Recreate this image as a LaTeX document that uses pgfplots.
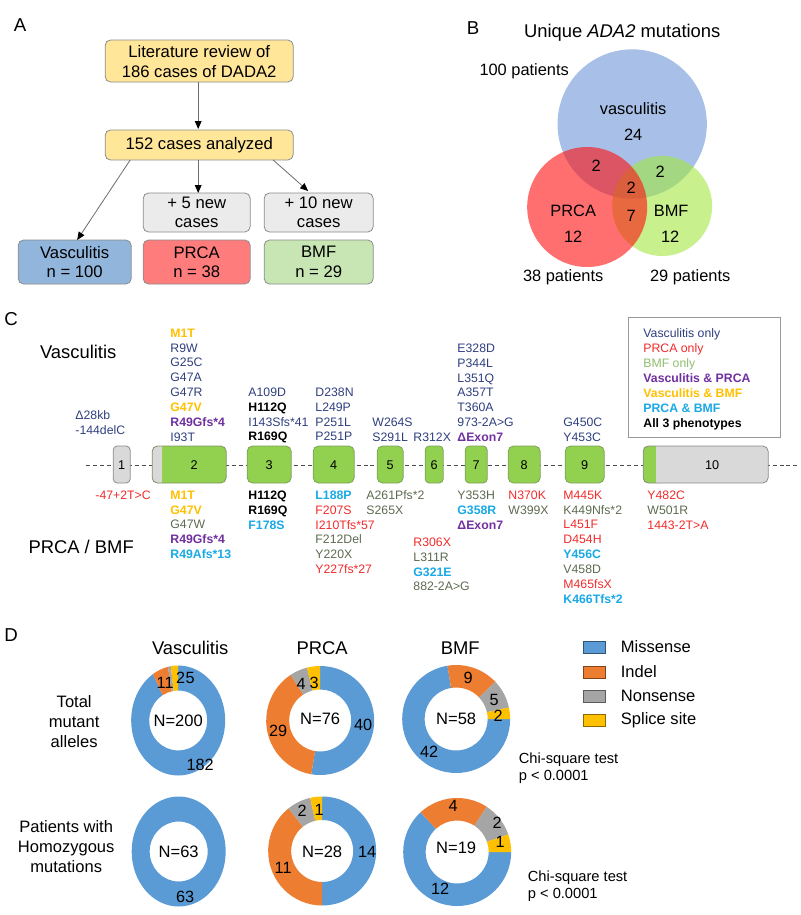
\documentclass[border=0pt]{standalone}
\usepackage{fontspec}
\setmainfont{Liberation Sans}
\usepackage{pgfplots}
\pgfplotsset{compat=1.18}
\usetikzlibrary{arrows.meta}

\definecolor{boxyellow}{HTML}{FFE699}
\definecolor{boxgray}{HTML}{EBEBEB}
\definecolor{boxblue}{HTML}{92B5DC}
\definecolor{boxred}{HTML}{FF7C7C}
\definecolor{boxgreen}{HTML}{C8E6B4}
\definecolor{boxborder}{HTML}{8C8C8C}
\definecolor{vblue}{RGB}{110,150,215}
\definecolor{vred}{RGB}{255,15,15}
\definecolor{vgreen}{RGB}{163,230,63}
\definecolor{exgreen}{HTML}{92D050}
\definecolor{exgray}{HTML}{D9D9D9}
\definecolor{exborder}{HTML}{7FA05A}
\definecolor{cvo}{HTML}{2F3F7E}
\definecolor{cpo}{HTML}{F22B2B}
\definecolor{cbo}{HTML}{5D6B50}
\definecolor{cbol}{HTML}{8FBF6F}
\definecolor{cvp}{HTML}{7030A0}
\definecolor{cvb}{HTML}{FFC000}
\definecolor{cpb}{HTML}{19A9E5}
\definecolor{cMis}{HTML}{5B9BD5}
\definecolor{cInd}{HTML}{ED7D31}
\definecolor{cNon}{HTML}{A5A5A5}
\definecolor{cSpl}{HTML}{FFC000}

\newcommand{\fLet}{\fontsize{14}{16}\selectfont}
\newcommand{\fBox}{\fontsize{12.5}{14.5}\selectfont}
\newcommand{\fTitle}{\fontsize{13.8}{16}\selectfont}
\newcommand{\fVenn}{\fontsize{12.3}{14}\selectfont}
\newcommand{\fMut}{\fontsize{9.2}{11.18}\selectfont}
\newcommand{\fExon}{\fontsize{9.5}{11}\selectfont}
\newcommand{\fNum}{\fontsize{12.2}{14}\selectfont}
\newcommand{\fNN}{\fontsize{12.4}{14}\selectfont}
\newcommand{\fLeg}{\fontsize{12.4}{15}\selectfont}
\newcommand{\fChi}{\fontsize{11}{13}\selectfont}

\newcommand{\vo}[1]{\textcolor{cvo}{#1}}
\newcommand{\po}[1]{\textcolor{cpo}{#1}}
\newcommand{\bo}[1]{\textcolor{cbo}{#1}}
\newcommand{\vp}[1]{\textcolor{cvp}{\bfseries #1}}
\newcommand{\vb}[1]{\textcolor{cvb}{\bfseries #1}}
\newcommand{\pb}[1]{\textcolor{cpb}{\bfseries #1}}
\newcommand{\al}[1]{\textcolor{black}{\bfseries #1}}

\tikzset{
  bord/.style={draw=boxborder, line width=0.6pt, rounded corners=4pt},
  arr/.style={draw=gray!85!black, line width=0.6pt, -{Triangle[length=6pt,width=5pt,color=black]}},
  mut/.style={anchor=north west, align=left, inner sep=0pt, font=\fMut},
}

% donut: cx, cy, Rx, Ry, rx, ry (px), start clock angle, values
\newcommand{\donut}[8]{%
  \pgfmathsetmacro\RX{#3*0.75}\pgfmathsetmacro\RY{#4*0.75}%
  \pgfmathsetmacro\rX{#5*0.75}\pgfmathsetmacro\rY{#6*0.75}%
  \gdef\dtot{0}%
  \foreach \v in {#8}{\pgfmathsetmacro\dtmp{\dtot+\v}\xdef\dtot{\dtmp}}%
  \xdef\dcum{#7}%
  \foreach \v [count=\i] in {#8}{%
    \pgfmathsetmacro\dang{(\v/\dtot)*360}%
    \pgfmathsetmacro\aone{90-\dcum}%
    \pgfmathsetmacro\atwo{90-\dcum-\dang}%
    \ifcase\i\or\def\dcol{cMis}\or\def\dcol{cInd}\or\def\dcol{cNon}\or\def\dcol{cSpl}\fi
    \edef\dcmd{\noexpand\fill[\dcol,shift={(axis cs:#1,#2)}] (\aone:\RX pt and \RY pt) arc[start angle=\aone,end angle=\atwo,x radius=\RX pt,y radius=\RY pt] -- (\atwo:\rX pt and \rY pt) arc[start angle=\atwo,end angle=\aone,x radius=\rX pt,y radius=\rY pt] -- cycle;}%
    \dcmd
    \pgfmathsetmacro\dtmp{\dcum+\dang}\xdef\dcum{\dtmp}%
  }%
}

\begin{document}
\begin{tikzpicture}
\begin{axis}[scale only axis, width=600pt, height=686.25pt,
  xmin=0, xmax=800, ymin=0, ymax=915, y dir=reverse, hide axis, clip=false]
\path (0,0) rectangle (800,915);

% ================= Panel A =================
\node[font=\fLet] at (20,25) {A};
\draw[bord, fill=boxyellow] (105,40) rectangle (293,82);
\node[font=\fBox, align=center] at (199,61.5) {Literature review of\\186 cases of DADA2};
\draw[bord, fill=boxyellow] (105,130) rectangle (293,160);
\node[font=\fBox] at (199,145) {152 cases analyzed};
\draw[bord, fill=boxgray] (143,193) rectangle (250,232);
\node[font=\fBox, align=center] at (196.5,212.5) {+ 5 new\\cases};
\draw[bord, fill=boxgray] (264,193) rectangle (373,232);
\node[font=\fBox, align=center] at (318.5,212.5) {+ 10 new\\cases};
\draw[bord, fill=boxblue] (18,240) rectangle (131,284);
\node[font=\fBox, align=center] at (74.5,262) {Vasculitis\\n = 100};
\draw[bord, fill=boxred] (143,240) rectangle (250,284);
\node[font=\fBox, align=center] at (196.5,262) {PRCA\\n = 38};
\draw[bord, fill=boxgreen] (264,240) rectangle (373,284);
\node[font=\fBox, align=center] at (318.5,262) {BMF\\n = 29};
\draw[arr] (198,82) -- (198,129);
\draw[arr] (130,160) -- (77,240);
\draw[arr] (198,160) -- (198,193);
\draw[arr] (273,160) -- (308,191);

% ================= Panel B =================
\node[font=\fLet] at (473,28) {B};
\node[font=\fTitle] at (622,33) {Unique \textit{ADA2} mutations};
\fill[vblue, fill opacity=0.6] (632,124) circle[radius=56pt];
\fill[vgreen, fill opacity=0.6] (662,206) circle[radius=37.5pt];
\fill[vred, fill opacity=0.6] (587,207) circle[radius=45pt];
\node[font=\fVenn] at (524,71) {100 patients};
\node[font=\fVenn] at (633,109) {vasculitis};
\node[font=\fVenn] at (633,135) {24};
\node[font=\fVenn] at (596,166) {2};
\node[font=\fVenn] at (660,172) {2};
\node[font=\fVenn] at (631,188) {2};
\node[font=\fVenn] at (631,216) {7};
\node[font=\fVenn] at (573,211) {PRCA};
\node[font=\fVenn] at (573,237) {12};
\node[font=\fVenn] at (671,211) {BMF};
\node[font=\fVenn] at (670,237) {12};
\node[font=\fVenn] at (563,277) {38 patients};
\node[font=\fVenn] at (690,277) {29 patients};

% ================= Panel C =================
\node[font=\fLet] at (11,319) {C};
\node[font=\fTitle] at (78,352) {Vasculitis};
\node[font=\fTitle] at (81,547) {PRCA / BMF};
\draw[gray!60!black, line width=0.6pt, dash pattern=on 3pt off 2.2pt] (86,465) -- (800,465);
% exon 1
\draw[draw=gray!90, fill=exgray, rounded corners=3pt, line width=0.6pt] (113,446) rectangle (130,483);
\node[font=\fExon] at (121.5,465) {1};
% exon 2
\fill[exgreen, rounded corners=4pt] (152,446) rectangle (226,483);
\fill[exgray, rounded corners=3pt] (152,446) rectangle (170,483);
\fill[exgreen] (162,446) rectangle (180,483);
\draw[draw=exborder!70!gray, rounded corners=4pt, line width=0.6pt] (152,446) rectangle (226,483);
\node[font=\fExon] at (194,465) {2};
% exons 3-9
\draw[draw=exborder, fill=exgreen, rounded corners=4pt, line width=0.6pt] (247,446) rectangle (291,483);
\node[font=\fExon] at (269,465) {3};
\draw[draw=exborder, fill=exgreen, rounded corners=4pt, line width=0.6pt] (313,446) rectangle (354,483);
\node[font=\fExon] at (333.5,465) {4};
\draw[draw=exborder, fill=exgreen, rounded corners=4pt, line width=0.6pt] (377,446) rectangle (403,483);
\node[font=\fExon] at (390,465) {5};
\draw[draw=exborder, fill=exgreen, rounded corners=3pt, line width=0.6pt] (425,446) rectangle (443,483);
\node[font=\fExon] at (434,465) {6};
\draw[draw=exborder, fill=exgreen, rounded corners=3pt, line width=0.6pt] (465,446) rectangle (487,483);
\node[font=\fExon] at (476,465) {7};
\draw[draw=exborder, fill=exgreen, rounded corners=4pt, line width=0.6pt] (508,446) rectangle (540,483);
\node[font=\fExon] at (524,465) {8};
\draw[draw=exborder, fill=exgreen, rounded corners=4pt, line width=0.6pt] (565,446) rectangle (604,483);
\node[font=\fExon] at (584.5,465) {9};
% exon 10
\fill[exgray, rounded corners=4pt] (643,446) rectangle (768,483);
\fill[exgreen, rounded corners=3pt] (643,446) rectangle (664,483);
\fill[exgray] (656,446) rectangle (672,483);
\draw[draw=gray!90, rounded corners=4pt, line width=0.6pt] (643,446) rectangle (768,483);
\node[font=\fExon] at (712,465) {10};

% mutations above
\node[mut] at (75,410.4) {\vo{Δ28kb}\\\vo{-144delC}};
\node[mut] at (170,328.4) {\vb{M1T}\\\vo{R9W}\\\vo{G25C}\\\vo{G47A}\\\vo{G47R}\\\vb{G47V}\\\vp{R49Gfs*4}\\\vo{I93T}};
\node[mut] at (248,387.4) {\vo{A109D}\\\al{H112Q}\\\vo{I143Sfs*41}\\\al{R169Q}};
\node[mut] at (315,387.4) {\vo{D238N}\\\vo{L249P}\\\vo{P251L}\\\vo{P251P}};
\node[mut] at (372,417.4) {\vo{W264S}\\\vo{S291L}};
\node[mut] at (413,432.4) {\vo{R312X}};
\node[mut] at (457,343.4) {\vo{E328D}\\\vo{P344L}\\\vo{L351Q}\\\vo{A357T}\\\vo{T360A}\\\vo{973-2A>G}\\\vp{ΔExon7}};
\node[mut] at (563,417.4) {\vo{G450C}\\\vo{Y453C}};
% mutations below
\node[mut] at (95,490.4) {\po{-47+2T>C}};
\node[mut] at (170,490.4) {\vb{M1T}\\\vb{G47V}\\\bo{G47W}\\\vp{R49Gfs*4}\\\pb{R49Afs*13}};
\node[mut] at (248,490.4) {\al{H112Q}\\\al{R169Q}\\\pb{F178S}};
\node[mut] at (315,490.4) {\pb{L188P}\\\po{F207S}\\\po{I210Tfs*57}\\\bo{F212Del}\\\bo{Y220X}\\\po{Y227fs*27}};
\node[mut] at (366,490.4) {\bo{A261Pfs*2}\\\bo{S265X}};
\node[mut] at (413,537.4) {\po{R306X}\\\bo{L311R}\\\pb{G321E}\\\bo{882-2A>G}};
\node[mut] at (457,490.4) {\bo{Y353H}\\\pb{G358R}\\\vp{ΔExon7}};
\node[mut] at (508,490.4) {\po{N370K}\\\bo{W399X}};
\node[mut] at (563,490.4) {\po{M445K}\\\bo{K449Nfs*2}\\\po{L451F}\\\po{D454H}\\\pb{Y456C}\\\bo{V458D}\\\po{M465fsX}\\\pb{K466Tfs*2}};
\node[mut] at (647,490.4) {\po{Y482C}\\\bo{W501R}\\\po{1443-2T>A}};
% legend C
\draw[draw=gray!80, fill=white, line width=0.7pt] (628,317) rectangle (780,437);
\node[mut] at (643,328.4) {\vo{Vasculitis only}\\\po{PRCA only}\\\textcolor{cbol}{BMF only}\\\vp{Vasculitis \& PRCA}\\\vb{Vasculitis \& BMF}\\\pb{PRCA \& BMF}\\\al{All 3 phenotypes}};

% ================= Panel D =================
\node[font=\fLet] at (11,635) {D};
\node[font=\fTitle] at (190,648) {Vasculitis};
\node[font=\fTitle] at (322,648) {PRCA};
\node[font=\fTitle] at (460,648) {BMF};
\node[font=\fLeg, align=center] at (74,722) {Total\\mutant\\alleles};
\node[font=\fLeg, align=center] at (66,847) {Patients with\\Homozygous\\mutations};

% Missense, Indel, Nonsense, Splice site
\donut{178}{720.5}{47}{55}{29}{30}{0}{182,11,2,5}
\donut{320}{720.5}{54}{54.5}{31}{31}{0}{40,29,4,3}
\donut{456}{719}{54}{54}{31.5}{31.5}{90}{42,9,5,2}
\donut{178.5}{851.5}{47}{55}{29}{30}{0}{63}
\donut{322}{851}{54}{54.5}{31}{31}{0}{14,11,2,1}
\donut{457}{852}{54}{54}{31.5}{31.5}{90}{12,4,2,1}

\node[font=\fNN] at (178,720.5) {N=200};
\node[font=\fNN] at (320,719) {N=76};
\node[font=\fNN] at (456,719) {N=58};
\node[font=\fNN] at (178.5,851.5) {N=63};
\node[font=\fNN] at (322,852) {N=28};
\node[font=\fNN] at (456,848) {N=19};

\node[font=\fNum] at (165,683) {11};
\node[font=\fNum] at (180.5,678) {2};
\node[font=\fNum] at (190,678) {5};
\node[font=\fNum] at (200,765) {182};
\node[font=\fNum] at (301,684) {4};
\node[font=\fNum] at (314,683) {3};
\node[font=\fNum] at (278,731) {29};
\node[font=\fNum] at (363,725) {40};
\node[font=\fNum] at (468,678) {9};
\node[font=\fNum] at (494,700) {5};
\node[font=\fNum] at (498,716) {2};
\node[font=\fNum] at (429,752) {42};
\node[font=\fNum] at (185,897) {63};
\node[font=\fNum] at (302,811) {2};
\node[font=\fNum] at (319,810) {1};
\node[font=\fNum] at (283,868) {11};
\node[font=\fNum] at (367,852) {14};
\node[font=\fNum] at (453,806) {4};
\node[font=\fNum] at (497,823) {2};
\node[font=\fNum] at (500,842) {1};
\node[font=\fNum] at (440,889) {12};

% legend D
\draw[fill=cMis, draw=cMis!55!black, line width=0.6pt] (583,641) rectangle (605,653);
\node[font=\fLeg, anchor=west] at (616,647) {Missense};
\draw[fill=cInd, draw=cInd!55!black, line width=0.6pt] (583,666) rectangle (605,678);
\node[font=\fLeg, anchor=west] at (616,672) {Indel};
\draw[fill=cNon, draw=cNon!55!black, line width=0.6pt] (583,690) rectangle (605,702);
\node[font=\fLeg, anchor=west] at (616,696) {Nonsense};
\draw[fill=cSpl, draw=cSpl!55!black, line width=0.6pt] (583,714) rectangle (605,726);
\node[font=\fLeg, anchor=west] at (616,720) {Splice site};

\node[font=\fChi, align=left, anchor=west] at (514,768.5) {Chi-square test\\p < 0.0001};
\node[font=\fChi, align=left, anchor=west] at (523,886) {Chi-square test\\p < 0.0001};
\end{axis}
\end{tikzpicture}
\end{document}
